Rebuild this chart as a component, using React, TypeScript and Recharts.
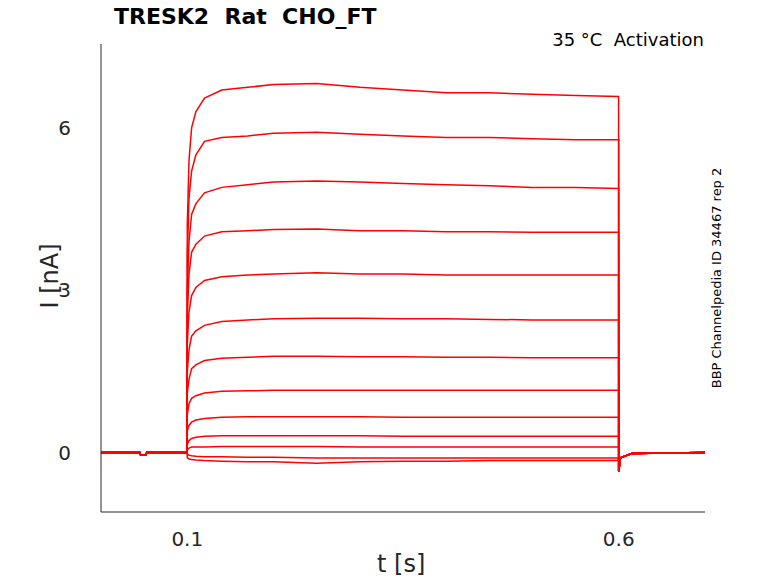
import { LineChart, Line, XAxis, YAxis } from "recharts";

const PRE_T = [0, 0.045, 0.046, 0.052, 0.053, 0.0999];
const PRE_V = [0, 0, -0.05, -0.05, 0, 0];
const PULSE_T = [0.1, 0.102, 0.105, 0.11, 0.12, 0.14, 0.17, 0.2, 0.25, 0.3, 0.35, 0.4, 0.45, 0.5, 0.55, 0.5999];
const POST_T = [0.6, 0.602, 0.615, 0.7];
const POST_V = [-0.35, -0.1, -0.02, 0];

const TRACES: number[][] = [
  [4.2, 5.4, 6.0, 6.3, 6.55, 6.7, 6.75, 6.8, 6.82, 6.75, 6.7, 6.65, 6.65, 6.62, 6.6, 6.58],
  [3.6, 4.7, 5.2, 5.5, 5.75, 5.82, 5.85, 5.9, 5.92, 5.88, 5.85, 5.82, 5.82, 5.8, 5.78, 5.78],
  [3.0, 3.9, 4.4, 4.6, 4.8, 4.9, 4.95, 5.0, 5.02, 5.0, 4.97, 4.95, 4.93, 4.9, 4.9, 4.88],
  [2.5, 3.3, 3.7, 3.85, 4.0, 4.08, 4.1, 4.12, 4.13, 4.1, 4.1, 4.08, 4.08, 4.07, 4.07, 4.07],
  [2.0, 2.6, 2.9, 3.05, 3.18, 3.25, 3.28, 3.3, 3.32, 3.3, 3.3, 3.28, 3.28, 3.28, 3.28, 3.28],
  [1.5, 1.9, 2.15, 2.25, 2.35, 2.42, 2.45, 2.47, 2.48, 2.48, 2.47, 2.47, 2.46, 2.45, 2.45, 2.45],
  [1.1, 1.35, 1.55, 1.62, 1.7, 1.74, 1.76, 1.78, 1.78, 1.77, 1.77, 1.76, 1.76, 1.75, 1.75, 1.75],
  [0.7, 0.9, 1.0, 1.05, 1.1, 1.13, 1.14, 1.15, 1.15, 1.15, 1.15, 1.15, 1.15, 1.15, 1.15, 1.15],
  [0.4, 0.5, 0.56, 0.6, 0.63, 0.65, 0.66, 0.66, 0.66, 0.66, 0.65, 0.65, 0.65, 0.65, 0.65, 0.65],
  [0.15, 0.22, 0.26, 0.28, 0.3, 0.31, 0.31, 0.31, 0.31, 0.31, 0.3, 0.3, 0.3, 0.3, 0.3, 0.3],
  [0.05, 0.08, 0.1, 0.1, 0.1, 0.11, 0.11, 0.11, 0.11, 0.1, 0.1, 0.1, 0.1, 0.1, 0.1, 0.1],
  [-0.03, -0.05, -0.06, -0.07, -0.08, -0.08, -0.09, -0.09, -0.1, -0.1, -0.1, -0.1, -0.1, -0.1, -0.1, -0.1],
  [-0.1, -0.12, -0.13, -0.14, -0.15, -0.16, -0.17, -0.17, -0.2, -0.17, -0.16, -0.16, -0.15, -0.15, -0.15, -0.15],
];

const X_TICKS = [0.1, 0.6];
const Y_TICKS = [0, 3, 6];

const series = TRACES.map((pulse) => {
  const pts: { t: number; v: number }[] = [];
  PRE_T.forEach((t, i) => pts.push({ t, v: PRE_V[i] }));
  PULSE_T.forEach((t, i) => pts.push({ t, v: pulse[i] }));
  POST_T.forEach((t, i) => pts.push({ t, v: POST_V[i] }));
  return pts;
});

const font = "'DejaVu Sans', sans-serif";
const tickStyle = { fill: "#262626", fontSize: 20, fontFamily: font };

export default function App() {
  return (
    <div style={{ position: "absolute", left: 0, top: 0, width: 778, height: 583, background: "#fff", fontFamily: font }}>
      <LineChart width={778} height={583} margin={{ left: 41, right: 73, top: 44, bottom: 21 }}>
        <XAxis type="number" dataKey="t" domain={[0, 0.7]} ticks={X_TICKS} height={50}
          allowDuplicatedCategory={false} stroke="#262626" tickLine={false} tick={tickStyle} tickMargin={14} />
        <YAxis type="number" dataKey="v" domain={[-1.1, 7.55]} ticks={Y_TICKS} width={60}
          stroke="#262626" tickLine={false} tick={tickStyle} tickMargin={24} allowDataOverflow />
        {series.map((d, i) => (
          <Line key={i} data={d} dataKey="v" type="linear" stroke="#ff0000" strokeWidth={1.5}
            dot={false} isAnimationActive={false} />
        ))}
      </LineChart>
      <div style={{ position: "absolute", left: 114, top: 4, fontSize: 22, fontWeight: "bold" }}>TRESK2&nbsp; Rat&nbsp; CHO_FT</div>
      <div style={{ position: "absolute", right: 74, top: 29, fontSize: 18 }}>35 °C&nbsp; Activation</div>
      <div style={{ position: "absolute", left: 377, top: 550, fontSize: 24, color: "#262626" }}>t [s]</div>
      <div style={{ position: "absolute", left: 50, top: 276, fontSize: 24, color: "#262626", transform: "translate(-50%,-50%) rotate(-90deg)", whiteSpace: "nowrap" }}>I [nA]</div>
      <div style={{ position: "absolute", left: 716, top: 278, fontSize: 13, transform: "translate(-50%,-50%) rotate(-90deg)", whiteSpace: "nowrap" }}>BBP Channelpedia ID 34467 rep 2</div>
    </div>
  );
}
